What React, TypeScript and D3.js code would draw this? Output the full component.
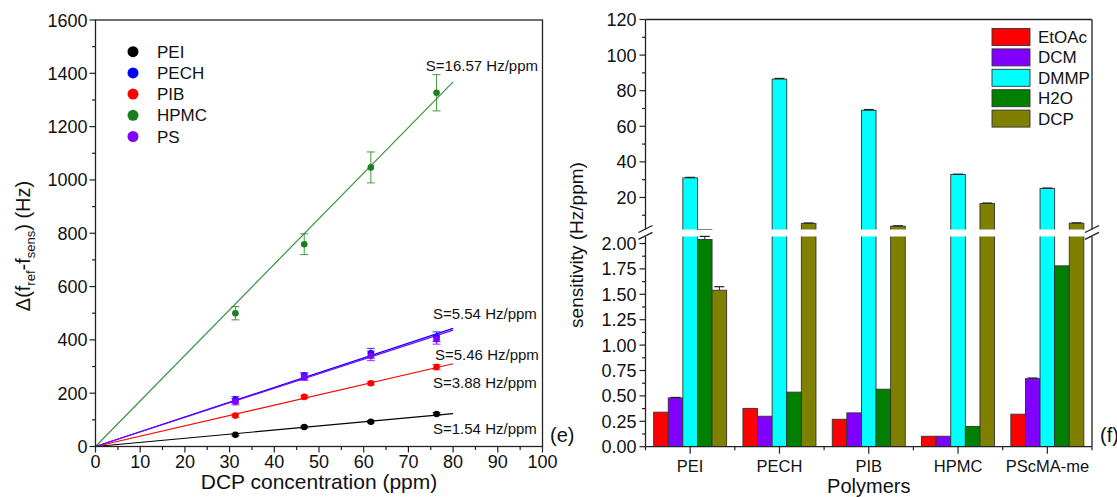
import React from "react";
import * as d3 from "d3";

// ---------- Left panel (e) data ----------
const concX = [31.3, 46.7, 61.6, 76.3];
const polymersL = ["PEI", "PECH", "PIB", "HPMC", "PS"];
const colorsL = ["#000000", "#0000FF", "#FF0000", "#1B7F1B", "#8000FF"];
const peiY = [44, 73, 93, 122];
const pechY = [175, 265, 350, 412];
const pibY = [116, 186, 237, 298];
const hpmcY = [500, 759, 1047, 1327];
const psY = [168, 260, 340, 402];
const peiErr = [4, 4, 4, 5];
const pechErr = [12, 12, 18, 18];
const pibErr = [6, 6, 6, 10];
const hpmcErr = [25, 39, 58, 68];
const psErr = [12, 12, 18, 18];
const fitSlopes = [1.54, 5.54, 3.88, 17.1, 5.46];
const fitLabels = ["S=1.54 Hz/ppm", "S=5.54 Hz/ppm", "S=3.88 Hz/ppm", "S=16.57 Hz/ppm", "S=5.46 Hz/ppm"];

// ---------- Right panel (f) data ----------
const categories = ["PEI", "PECH", "PIB", "HPMC", "PScMA-me"];
const solvents = ["EtOAc", "DCM", "DMMP", "H2O", "DCP"];
const solventColors = ["#FF0000", "#8000FF", "#00FFFF", "#007F00", "#808000"];
const etoac = [0.34, 0.377, 0.27, 0.103, 0.32];
const dcm = [0.48, 0.3, 0.333, 0.103, 0.67];
const dmmp = [31.0, 86.5, 69.0, 32.9, 25.1];
const h2o = [2.04, 0.537, 0.566, 0.2, 1.78];
const dcp = [1.54, 5.46, 3.88, 16.57, 5.54];
const etoacErr = [0, 0, 0, 0, 0];
const dcmErr = [0.005, 0, 0, 0, 0.006];
const dmmpErr = [0.3, 0.4, 0.4, 0.2, 0.2];
const h2oErr = [0.03, 0, 0, 0, 0];
const dcpErr = [0.035, 0.2, 0.2, 0.3, 0.2];

const FONT = "'Liberation Sans', Arial, Helvetica, sans-serif";
const AX = "#222";

export default function App() {
  // Left scales
  const xL = d3.scaleLinear().domain([0, 100]).range([95.5, 542.5]);
  const yL = d3.scaleLinear().domain([0, 1600]).range([446.5, 20]);
  const seriesY = [peiY, pechY, pibY, hpmcY, psY];
  const seriesErr = [peiErr, pechErr, pibErr, hpmcErr, psErr];

  // Right scales
  const xR = d3.scaleLinear().domain([0.5, 5.5]).range([645.5, 1092]);
  const yUp = d3.scaleLinear().domain([2, 120]).range([229.5, 19.5]);
  const yLow = d3.scaleLinear().domain([0, 2.07]).range([446.7, 236.4]);
  const barVals = [etoac, dcm, dmmp, h2o, dcp];
  const barErrs = [etoacErr, dcmErr, dmmpErr, h2oErr, dcpErr];
  const bw = 0.1635;

  const xL0 = xL.range()[0], xL1 = xL.range()[1];
  const yLb = yL.range()[0], yLt = yL.range()[1];
  const xR0 = xR.range()[0], xR1 = xR.range()[1];
  const yRb = yLow.range()[0], yRt = yUp.range()[1];
  const gapTop = yUp.range()[0], gapBot = yLow.range()[1];

  const lineGen = d3.line<[number, number]>().x(d => xL(d[0])).y(d => yL(d[1]));

  return (
    <svg width={1117} height={497} style={{ position: "absolute", left: 0, top: 0, background: "#fff" }} fontFamily={FONT}>
      <defs>
        <clipPath id="clipUp"><rect x={xR0} y={yRt} width={xR1 - xR0} height={gapTop - yRt} /></clipPath>
        <clipPath id="clipLow"><rect x={xR0} y={gapBot} width={xR1 - xR0} height={yRb - gapBot} /></clipPath>
      </defs>

      {/* ================= LEFT PANEL ================= */}
      {fitSlopes.map((s, i) => (
        <path key={"fit" + i} d={lineGen([[0, 0], [80, 80 * s]]) || ""} stroke={colorsL[i]} strokeWidth={1.2} fill="none" opacity={i === 3 ? 0.85 : 1} />
      ))}
      {seriesY.map((ys, i) => (
        <g key={"s" + i}>
          {ys.map((v, j) => {
            const cx = xL(concX[j]);
            const e = seriesErr[i][j];
            return (
              <g key={j}>
                <line x1={cx} x2={cx} y1={yL(v - e)} y2={yL(v + e)} stroke={colorsL[i]} strokeWidth={1} opacity={0.8} />
                <line x1={cx - 4} x2={cx + 4} y1={yL(v - e)} y2={yL(v - e)} stroke={colorsL[i]} strokeWidth={1} opacity={0.8} />
                <line x1={cx - 4} x2={cx + 4} y1={yL(v + e)} y2={yL(v + e)} stroke={colorsL[i]} strokeWidth={1} opacity={0.8} />
                <circle cx={cx} cy={yL(v)} r={3.3} fill={colorsL[i]} />
              </g>
            );
          })}
        </g>
      ))}
      <rect x={xL0} y={yLt} width={xL1 - xL0} height={yLb - yLt} fill="none" stroke={AX} strokeWidth={1.3} />
      {d3.range(0, 101, 10).map(t => (
        <g key={"lx" + t}>
          <line x1={xL(t)} x2={xL(t)} y1={yLb} y2={yLb + 6} stroke={AX} strokeWidth={1.2} />
          <text x={xL(t)} y={468} fontSize={18} textAnchor="middle" fill="#111">{t}</text>
        </g>
      ))}
      {d3.range(5, 100, 10).map(t => (
        <line key={"lxm" + t} x1={xL(t)} x2={xL(t)} y1={yLb} y2={yLb + 3.5} stroke={AX} strokeWidth={1.2} />
      ))}
      {d3.range(0, 1601, 200).map(t => (
        <g key={"ly" + t}>
          <line x1={xL0 - 6} x2={xL0} y1={yL(t)} y2={yL(t)} stroke={AX} strokeWidth={1.2} />
          <text x={xL0 - 8} y={yL(t) + 6.5} fontSize={18} textAnchor="end" fill="#111">{t}</text>
        </g>
      ))}
      {d3.range(100, 1600, 200).map(t => (
        <line key={"lym" + t} x1={xL0 - 3.5} x2={xL0} y1={yL(t)} y2={yL(t)} stroke={AX} strokeWidth={1.2} />
      ))}
      <text x={(xL0 + xL1) / 2} y={489} fontSize={21} textAnchor="middle" fill="#111">DCP concentration (ppm)</text>
      <text transform={`translate(30,246) rotate(-90)`} fontSize={20} textAnchor="middle" fill="#111">
        Δ(f<tspan fontSize={13} dy={5}>ref</tspan><tspan dy={-5}>-f</tspan><tspan fontSize={13} dy={5}>sens</tspan><tspan dy={-5}>) (Hz)</tspan>
      </text>
      {polymersL.map((p, i) => (
        <g key={"lg" + i}>
          <circle cx={133} cy={51.7 + i * 21.2} r={5.5} fill={colorsL[i]} />
          <text x={157} y={51.7 + i * 21.2 + 6} fontSize={17} fill="#111">{p}</text>
        </g>
      ))}
      <text x={538} y={71} fontSize={15} textAnchor="end" fill="#111">{fitLabels[3]}</text>
      <text x={433} y={319} fontSize={15} fill="#111">{fitLabels[1]}</text>
      <text x={435} y={360} fontSize={15} fill="#111">{fitLabels[4]}</text>
      <text x={433} y={388} fontSize={15} fill="#111">{fitLabels[2]}</text>
      <text x={433} y={434} fontSize={15} fill="#111">{fitLabels[0]}</text>
      <text x={550} y={442} fontSize={20} fill="#111">(e)</text>

      {/* ================= RIGHT PANEL ================= */}
      {barVals.map((vals, s) =>
        vals.map((v, c) => {
          const xc = c + 1 + (s - 2) * bw;
          const x0 = xR(xc - bw / 2);
          const w = xR(xc + bw / 2) - x0;
          const lowTop = v > 2.07 ? gapBot - 5 : yLow(v);
          return (
            <g key={"b" + s + "-" + c}>
              <rect x={x0} y={lowTop} width={w} height={yRb - lowTop} fill={solventColors[s]} stroke="#333" strokeWidth={0.9} clipPath="url(#clipLow)" />
              {v > 2 && (
                <rect x={x0} y={yUp(v)} width={w} height={gapTop + 5 - yUp(v)} fill={solventColors[s]} stroke="#333" strokeWidth={0.9} clipPath="url(#clipUp)" />
              )}
            </g>
          );
        })
      )}
      {barErrs.map((errs, s) =>
        errs.map((e, c) => {
          if (!e) return null;
          const v = barVals[s][c];
          const sc = v > 2.07 ? yUp : yLow;
          const xc = xR(c + 1 + (s - 2) * bw);
          const y1 = sc(v + e), y2 = sc(v);
          return (
            <g key={"e" + s + "-" + c}>
              <line x1={xc} x2={xc} y1={y1} y2={y2} stroke="#222" strokeWidth={1} />
              <line x1={xc - 5} x2={xc + 5} y1={y1} y2={y1} stroke="#222" strokeWidth={1.2} />
            </g>
          );
        })
      )}
      <line x1={xR0} x2={xR1} y1={yRt} y2={yRt} stroke={AX} strokeWidth={1.3} />
      <line x1={xR0} x2={xR1} y1={yRb} y2={yRb} stroke={AX} strokeWidth={1.3} />
      {[xR0, xR1].map((x, i) => (
        <g key={"ax" + i}>
          <line x1={x} x2={x} y1={yRt} y2={gapTop} stroke={AX} strokeWidth={1.3} />
          <line x1={x} x2={x} y1={gapBot} y2={yRb} stroke={AX} strokeWidth={1.3} />
          <line x1={x - 7} x2={x + 7} y1={gapTop + 3} y2={gapTop - 4} stroke={AX} strokeWidth={1.3} />
          <line x1={x - 7} x2={x + 7} y1={gapBot + 3} y2={gapBot - 4} stroke={AX} strokeWidth={1.3} />
        </g>
      ))}
      {d3.range(20, 121, 20).map(t => (
        <g key={"ru" + t}>
          <line x1={xR0 - 6} x2={xR0} y1={yUp(t)} y2={yUp(t)} stroke={AX} strokeWidth={1.2} />
          <text x={xR0 - 9} y={yUp(t) + 6.5} fontSize={18} textAnchor="end" fill="#111">{t}</text>
        </g>
      ))}
      {d3.range(10, 120, 20).map(t => (
        <line key={"rum" + t} x1={xR0 - 3.5} x2={xR0} y1={yUp(t)} y2={yUp(t)} stroke={AX} strokeWidth={1.2} />
      ))}
      {d3.range(0, 2.001, 0.25).map(t => (
        <g key={"rl" + t}>
          <line x1={xR0 - 6} x2={xR0} y1={yLow(t)} y2={yLow(t)} stroke={AX} strokeWidth={1.2} />
          <text x={xR0 - 9} y={yLow(t) + 6.5} fontSize={18} textAnchor="end" fill="#111">{d3.format(".2f")(t)}</text>
        </g>
      ))}
      {d3.range(0.125, 2, 0.25).map(t => (
        <line key={"rlm" + t} x1={xR0 - 3.5} x2={xR0} y1={yLow(t)} y2={yLow(t)} stroke={AX} strokeWidth={1.2} />
      ))}
      {categories.map((c, i) => (
        <g key={"rx" + i}>
          <line x1={xR(i + 1)} x2={xR(i + 1)} y1={yRb} y2={yRb + 7} stroke={AX} strokeWidth={1.2} />
          <text x={xR(i + 1)} y={472} fontSize={16.5} textAnchor="middle" fill="#111">{c}</text>
        </g>
      ))}
      {d3.range(0.5, 5.6, 1).map(t => (
        <line key={"rxm" + t} x1={xR(t)} x2={xR(t)} y1={yRb} y2={yRb + 3.5} stroke={AX} strokeWidth={1.2} />
      ))}
      <text x={xR(3)} y={493} fontSize={20} textAnchor="middle" fill="#111">Polymers</text>
      <text transform={`translate(583,245) rotate(-90)`} fontSize={19} textAnchor="middle" fill="#111">sensitivity (Hz/ppm)</text>
      {solvents.map((s, i) => (
        <g key={"rg" + i}>
          <rect x={992} y={28.5 + i * 20.4} width={38} height={17} fill={solventColors[i]} stroke="#333" strokeWidth={0.9} />
          <text x={1038} y={43 + i * 20.4} fontSize={17} fill="#111">{s}</text>
        </g>
      ))}
      <text x={1100} y={442} fontSize={20} fill="#111">(f)</text>
    </svg>
  );
}
